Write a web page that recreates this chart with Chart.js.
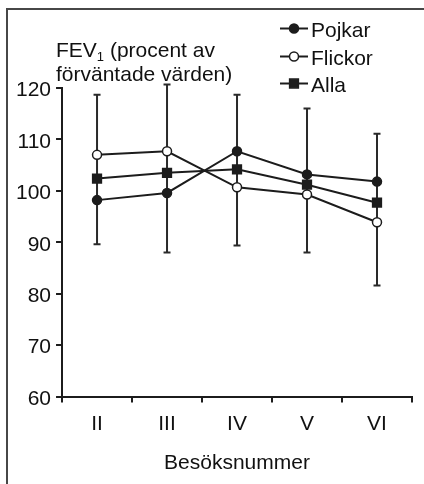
<!DOCTYPE html>
<html>
<head>
<meta charset="utf-8">
<script src="https://cdn.jsdelivr.net/npm/chart.js@4/dist/chart.umd.min.js"></script>
<style>
  body { margin: 0; background: #fff; }
  #wrap { position: relative; width: 424px; height: 484px; overflow: hidden; }
  #frame { position: absolute; left: 6px; top: 8px; right: -4px; bottom: -4px;
           border-top: 2px solid #474747; border-left: 2px solid #474747; }
  canvas { position: absolute; left: 0; top: 0; }
</style>
</head>
<body>
<div id="wrap">
  <div id="frame"></div>
  <canvas id="chart" width="424" height="484"></canvas>
</div>
<script>
const categories = ['II', 'III', 'IV', 'V', 'VI'];
const pojkar = [98.2, 99.6, 107.7, 103.2, 101.8];
const flickor = [107.0, 107.7, 100.7, 99.3, 93.9];
const alla = [102.4, 103.5, 104.2, 101.2, 97.7];
const errHigh = [118.7, 120.7, 118.7, 116.0, 111.1];
const errLow = [89.6, 88.0, 89.4, 88.0, 81.6];
const yTicks = [60, 70, 80, 90, 100, 110, 120];

const ink = '#1c1c1c';
const fontFamily = '"Liberation Sans", Arial, sans-serif';
const fontSize = 21;
Chart.defaults.font.family = fontFamily;
Chart.defaults.color = '#111';

const series = [
    { label: 'Pojkar', data: pojkar, style: 'circle', fill: ink, radius: 4.5 },
    { label: 'Flickor', data: flickor, style: 'circle', fill: '#fff', radius: 4.5 },
    { label: 'Alla', data: alla, style: 'rect', fill: ink, radius: 6.2 }
];

// error bars, title and legend
const extras = {
    id: 'extras',
    beforeDatasetsDraw(chart) {
        const ctx = chart.ctx;
        const x = chart.scales.x;
        const y = chart.scales.y;
        ctx.save();
        ctx.strokeStyle = '#2a2a2a';
        ctx.lineWidth = 2;
        categories.forEach((c, i) => {
            const px = x.getPixelForValue(i);
            const top = y.getPixelForValue(errHigh[i]);
            const bot = y.getPixelForValue(errLow[i]);
            ctx.beginPath();
            ctx.moveTo(px, top);
            ctx.lineTo(px, bot);
            ctx.moveTo(px - 3.5, top);
            ctx.lineTo(px + 3.5, top);
            ctx.moveTo(px - 3.5, bot);
            ctx.lineTo(px + 3.5, bot);
            ctx.stroke();
        });
        ctx.restore();
    },
    afterDraw(chart) {
        const ctx = chart.ctx;
        ctx.save();
        ctx.fillStyle = '#111';
        ctx.textBaseline = 'alphabetic';
        ctx.textAlign = 'left';
        // y axis title
        ctx.font = fontSize + 'px ' + fontFamily;
        ctx.fillText('FEV', 56, 57);
        let w = ctx.measureText('FEV').width;
        ctx.font = '13px ' + fontFamily;
        ctx.fillText('1', 56 + w, 61);
        const w1 = ctx.measureText('1').width;
        ctx.font = fontSize + 'px ' + fontFamily;
        ctx.fillText(' (procent av', 56 + w + w1, 57);
        ctx.fillText('förväntade värden)', 56, 81);

        // legend
        const rows = [30, 58, 85];
        series.forEach((s, i) => {
            const ly = rows[i] - 1.5;
            ctx.strokeStyle = ink;
            ctx.lineWidth = 2;
            ctx.beginPath();
            ctx.moveTo(280, ly);
            ctx.lineTo(308, ly);
            ctx.stroke();
            ctx.fillStyle = s.fill;
            ctx.lineWidth = 1.5;
            Chart.helpers.drawPoint(ctx, { pointStyle: s.style, radius: s.radius, borderWidth: 1.5 }, 294, ly);
            ctx.fillStyle = '#111';
            ctx.font = fontSize + 'px ' + fontFamily;
            ctx.textBaseline = 'middle';
            ctx.fillText(s.label, 311, rows[i] + 1);
        });
        ctx.restore();
    }
};

new Chart(document.getElementById('chart'), {
    type: 'line',
    data: {
        labels: categories,
        datasets: series.map(s => ({
            label: s.label,
            data: s.data,
            borderColor: ink,
            borderWidth: 2,
            tension: 0,
            pointStyle: s.style,
            pointRadius: s.radius,
            pointBackgroundColor: s.fill,
            pointBorderColor: ink,
            pointBorderWidth: 1.5
        }))
    },
    options: {
        responsive: false,
        animation: false,
        events: [],
        layout: { padding: { left: 11, right: 12, top: 88, bottom: 8 } },
        plugins: {
            legend: { display: false },
            tooltip: { enabled: false }
        },
        scales: {
            x: {
                type: 'category',
                offset: true,
                grid: { offset: true, drawOnChartArea: false, tickLength: 6, color: ink, lineWidth: 2 },
                border: { color: ink, width: 2 },
                ticks: { font: { size: fontSize }, padding: 9, color: '#111' },
                title: { display: true, text: 'Besöksnummer', font: { size: fontSize }, color: '#111', padding: { top: 5, bottom: 0 } }
            },
            y: {
                min: 60,
                max: 120,
                afterBuildTicks: scale => { scale.ticks = yTicks.map(v => ({ value: v })); },
                grid: { drawOnChartArea: false, tickLength: 6, color: ink, lineWidth: 2 },
                border: { color: ink, width: 2 },
                ticks: { font: { size: fontSize }, padding: 5, color: '#111', labelOffset: 2.5 }
            }
        }
    },
    plugins: [extras]
});
</script>
</body>
</html>
